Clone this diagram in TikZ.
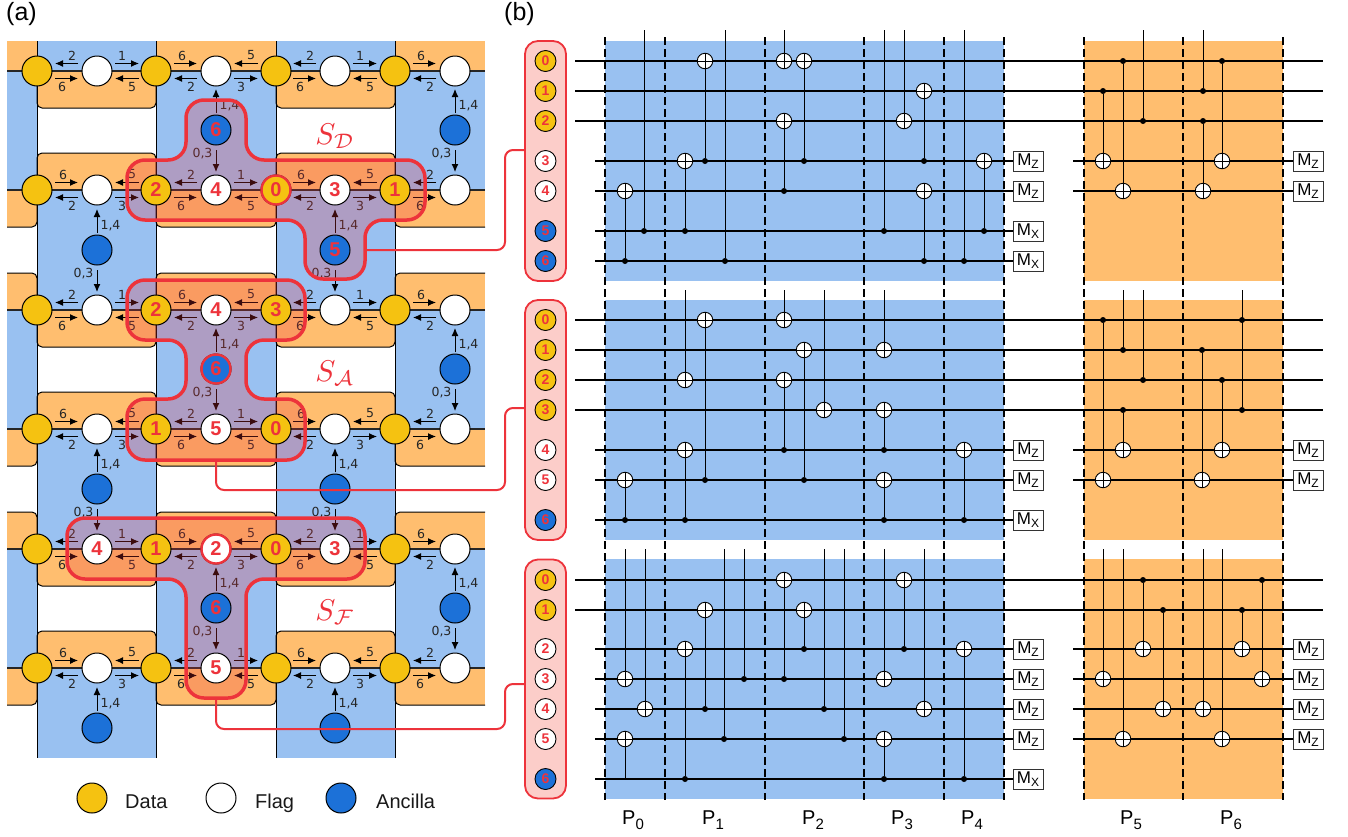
\documentclass[tikz,border=0pt]{standalone}
\usepackage{fontspec}
\setmainfont{Liberation Sans}
\newfontfamily\djv{DejaVu Sans}
\usetikzlibrary{arrows.meta}
\definecolor{cblue}{HTML}{99C1F1}
\definecolor{corange}{HTML}{FFBE6F}
\definecolor{cyel}{HTML}{F5C211}
\definecolor{canc}{HTML}{1C71D8}
\definecolor{cred}{HTML}{ED333B}
\definecolor{cpink}{HTML}{FCCDC9}
\tikzset{
 arr/.style={-{Latex[length=8pt,width=7pt]},line width=1pt,black},
 lb/.style={font=\djv\fontsize{12.5}{12.5}\selectfont,text=black!85,inner sep=0pt},
 blk/.style={fill=corange,draw=black,line width=1pt,rounded corners=5pt},
 qub/.style={circle,draw=black,line width=1pt,minimum size=30pt,inner sep=0pt},
 dat/.style={qub,fill=cyel},
 flg/.style={qub,fill=white},
 anc/.style={qub,fill=canc},
 ring/.style={circle,draw=cred,line width=2.4pt,minimum size=29pt,inner sep=0pt},
 bign/.style={text=cred,font=\bfseries\fontsize{20}{20}\selectfont,inner sep=0pt},
 smq/.style={circle,draw=black,line width=0.9pt,minimum size=21pt,inner sep=0pt,text=cred,font=\bfseries\fontsize{14}{14}\selectfont},
 region/.style={fill=cred,fill opacity=0.25,draw=cred,draw opacity=1,line width=3.5pt,rounded corners=18pt},
 conn/.style={draw=cred,line width=2pt,rounded corners=8pt},
 redbox/.style={rectangle,draw=cred,fill=cpink,line width=1.8pt,rounded corners=13pt,minimum width=41pt,inner sep=0pt},
 wire/.style={line width=1.7pt,black},
 gate/.style={line width=0.9pt,black},
 tgt/.style={circle,draw=black,fill=white,line width=0.9pt,minimum size=15.5pt,inner sep=0pt},
 ctl/.style={circle,fill=black,minimum size=6pt,inner sep=0pt},
 mbox/.style={rectangle,draw=black!80,fill=white,line width=0.9pt,minimum width=30pt,minimum height=20pt,inner sep=0pt,font=\fontsize{17}{17}\selectfont},
 dsh/.style={line width=2.7pt,black,dash pattern=on 7.5pt off 4.5pt},
 slab/.style={text=cred,scale=3,inner sep=0pt},
 plab/.style={font=\fontsize{20}{20}\selectfont,inner sep=0pt,anchor=base west},
 leg/.style={font=\fontsize{20}{20}\selectfont,inner sep=0pt,anchor=base west,text=black!90},
}
\newcommand{\sbs}[1]{\raisebox{-3.5pt}{\fontsize{12}{12}\selectfont #1}}
\newcommand{\psb}[1]{\raisebox{-5pt}{\fontsize{15}{15}\selectfont #1}}
% arrows around a flag
\newcommand{\hh}[7]{% x1,x2,y, labelx, labely, text, tag
 \coordinate (ha#7) at (#1,#3); \coordinate (hb#7) at (#2,#3);
 \draw[arr] (ha#7) -- (hb#7);
 \node[lb] (hl#7) at (#4,#5) {#6};}
\newcommand{\ALeft}[2]{%
 \hh{#1-19}{#1-42}{#2-7.5}{#1-25}{#2-15.5}{2}{#1-#2-a}
 \hh{#1-42}{#1-19}{#2+7.5}{#1-35}{#2+16}{6}{#1-#2-b}}
\newcommand{\ARight}[2]{%
 \hh{#1+18}{#1+42}{#2-7.5}{#1+25}{#2-15.5}{1}{#1-#2-c}
 \hh{#1+42}{#1+18}{#2+7.5}{#1+35}{#2+16}{5}{#1-#2-d}}
\newcommand{\BLeft}[2]{%
 \hh{#1-42}{#1-19}{#2-7.5}{#1-34}{#2-15.5}{6}{#1-#2-a}
 \hh{#1-19}{#1-42}{#2+7.5}{#1-25}{#2+16}{2}{#1-#2-b}}
\newcommand{\BRight}[2]{%
 \hh{#1+42}{#1+18}{#2-7.5}{#1+35}{#2-15.5}{5}{#1-#2-c}
 \hh{#1+18}{#1+42}{#2+7.5}{#1+25}{#2+16}{3}{#1-#2-d}}
% gates
\newcommand{\tnode}[2]{\node[tgt] (t#1-#2) at (#1,#2) {};
 \draw[line width=0.8pt] (t#1-#2.north) -- (t#1-#2.south) (t#1-#2.west) -- (t#1-#2.east);}
\newcommand{\gcx}[3]{\node[ctl] (c#1-#2) at (#1,#2) {}; \tnode{#1}{#3} \draw[gate] (c#1-#2) -- (t#1-#3);}
\newcommand{\gtt}[3]{\coordinate (u#1-#2) at (#1,#2); \tnode{#1}{#3} \draw[gate] (u#1-#2) -- (t#1-#3);}
\newcommand{\gct}[3]{\coordinate (u#1-#2) at (#1,#2); \node[ctl] (c#1-#3) at (#1,#3) {}; \draw[gate] (u#1-#2) -- (c#1-#3);}
\newcommand{\gnt}[3]{\coordinate (e#1-#2) at (#1,#2); \tnode{#1}{#3} \draw[gate] (e#1-#2) -- (t#1-#3);}
\newcommand{\wirefull}[1]{\coordinate (wa#1) at (575,#1); \coordinate (wb#1) at (1323,#1); \draw[wire] (wa#1) -- (wb#1);}
\newcommand{\wireone}[2]{\node[mbox] (ma#1) at (1028,#1) {M\sbs{#2}}; \coordinate (wa#1) at (595,#1); \draw[wire] (wa#1) -- (ma#1);}
\newcommand{\wiretwo}[2]{\node[mbox] (mb#1) at (1308,#1) {M\sbs{#2}}; \coordinate (wc#1) at (1073,#1); \draw[wire] (wc#1) -- (mb#1);}
\newcommand{\numq}[3]{\node[bign] (n#1-#2) at (#1,#2) {#3};}
\begin{document}
\begin{tikzpicture}[x=1pt,y=-1pt]
\useasboundingbox (0,0) rectangle (1348,836);
%% ---------- panel (a) background
\foreach \xa/\xb/\ya/\yb in {
 37/156/41/71, 276/395/41/71,
 7/37/71/190, 156/276/71/190, 395/485/71/190,
 37/156/190/310, 276/395/190/310,
 7/37/310/429, 156/276/310/429, 395/485/310/429,
 37/156/429/549, 276/395/429/549,
 7/37/549/668, 156/276/549/668, 395/485/549/668,
 37/156/668/758, 276/395/668/758}
 {\fill[cblue] (\xa,\ya) rectangle (\xb,\yb);}
\foreach \xa/\xb in {7/37,156/276,395/485}
 {\fill[corange] (\xa,41) rectangle (\xb,71);}
% orange blocks below a row, columns 37-156 and 276-395
\foreach \y in {71,310,549} {\foreach \xa/\xb in {37/156,276/395}
 {\draw[blk] (\xa,\y) -- (\xa,\y+37) -- (\xb,\y+37) -- (\xb,\y);}}
% orange blocks above a row
\foreach \y in {190,429,668} {\foreach \xa/\xb in {37/156,276/395}
 {\draw[blk] (\xa,\y) -- (\xa,\y-37) -- (\xb,\y-37) -- (\xb,\y);}}
\foreach \y in {190,429,668} {
 \draw[blk] (156,\y) -- (156,\y+37) -- (276,\y+37) -- (276,\y);
 \fill[corange,rounded corners=5pt] (6,\y) -- (6,\y+37) -- (37,\y+37) -- (37,\y) -- cycle;
 \fill[corange] (7,\y) rectangle (20,\y+37);
 \fill[white] (0,\y) rectangle (7,\y+38);
 \draw[line width=1pt,rounded corners=5pt] (7,\y+37) -- (37,\y+37) -- (37,\y);
 \fill[corange,rounded corners=5pt] (395,\y) -- (395,\y+37) -- (490,\y+37) -- (490,\y) -- cycle;
 \fill[white] (485,\y) rectangle (492,\y+38);
 \draw[line width=1pt,rounded corners=5pt] (485,\y+37) -- (395,\y+37) -- (395,\y);
}
\foreach \y in {310,549} {
 \draw[blk] (156,\y) -- (156,\y-37) -- (276,\y-37) -- (276,\y);
 \fill[corange,rounded corners=5pt] (6,\y) -- (6,\y-37) -- (37,\y-37) -- (37,\y) -- cycle;
 \fill[corange] (7,\y-37) rectangle (20,\y);
 \fill[white] (0,\y-38) rectangle (7,\y);
 \draw[line width=1pt,rounded corners=5pt] (7,\y-37) -- (37,\y-37) -- (37,\y);
 \fill[corange,rounded corners=5pt] (395,\y) -- (395,\y-37) -- (490,\y-37) -- (490,\y) -- cycle;
 \fill[white] (485,\y-38) rectangle (492,\y);
 \draw[line width=1pt,rounded corners=5pt] (485,\y-37) -- (395,\y-37) -- (395,\y);
}
% column lines and row lines
\foreach \x in {37,156,276,395} {
 \coordinate (ct\x) at (\x,41); \coordinate (cb\x) at (\x,758);
 \draw[line width=1pt] (ct\x) -- (cb\x);}
\foreach \y in {71,190,310,429,549,668} {
 \coordinate (rl\y) at (7,\y); \coordinate (rr\y) at (485,\y);
 \draw[line width=1.2pt,black!85] (rl\y) -- (rr\y);}
% horizontal arrows
\foreach \y in {71,310,549} {
 \foreach \f in {97,335} {\ALeft{\f}{\y} \ARight{\f}{\y}}
 \BLeft{216}{\y} \BRight{216}{\y} \BLeft{455}{\y}}
\foreach \y in {190,429,668} {
 \foreach \f in {97,335} {\BLeft{\f}{\y} \BRight{\f}{\y}}
 \ALeft{216}{\y} \ARight{216}{\y} \ALeft{455}{\y}}
% vertical arrows
\foreach \x/\y in {216/130,455/130,97/250,335/250,216/369,455/369,97/489,335/489,216/608,455/608,97/728,335/728} {
 \coordinate (ua\x-\y) at (\x,\y-17); \coordinate (ub\x-\y) at (\x,\y-41);
 \draw[arr] (ua\x-\y) -- (ub\x-\y);
 \node[lb] (ul\x-\y) at (\x+13.5,\y-24) {1,4};}
\foreach \x/\y in {216/130,455/130,97/250,335/250,216/369,455/369,97/489,335/489,216/608,455/608} {
 \coordinate (da\x-\y) at (\x,\y+20); \coordinate (db\x-\y) at (\x,\y+42);
 \draw[arr] (da\x-\y) -- (db\x-\y);
 \node[lb] (dl\x-\y) at (\x-13.5,\y+24) {0,3};}
% red regions
\draw[region] (186,100) -- (246,100) -- (246,160) -- (425,160) -- (425,220) -- (365,220) -- (365,279) -- (305,279) -- (305,220) -- (127,220) -- (127,160) -- (186,160) -- cycle;
\draw[region] (127,280) -- (305,280) -- (305,340) -- (246,340) -- (246,399) -- (305,399) -- (305,460) -- (127,460) -- (127,399) -- (186,399) -- (186,340) -- (127,340) -- cycle;
\draw[region] (67,518) -- (365,518) -- (365,579) -- (246,579) -- (246,698) -- (186,698) -- (186,579) -- (67,579) -- cycle;
% qubits
\foreach \y in {71,190,310,429,549,668} {
 \foreach \x in {37,156,276,395} {\node[dat] (d\x-\y) at (\x,\y) {};}
 \foreach \x in {97,216,335,455} {\node[flg] (f\x-\y) at (\x,\y) {};}}
\foreach \x/\y in {216/130,455/130,97/250,335/250,216/369,455/369,97/489,335/489,216/608,455/608,97/728,335/728}
 {\node[anc] (a\x-\y) at (\x,\y) {};}
\node[ring] (r1) at (276,190) {};
\node[ring] (r2) at (216,369) {};
\node[ring] (r3) at (216,549) {};
\foreach \x/\y/\dg in {156/190/2,216/190/4,276/190/0,335/190/3,395/190/1,216/130/6,335/250/5,
 156/310/2,216/310/4,276/310/3,216/369/6,156/429/1,216/429/5,276/429/0,
 97/549/4,156/549/1,216/549/2,276/549/0,335/549/3,216/608/6,216/668/5}
 {\numq{\x}{\y}{\dg}}
% S labels
\node[slab] (s1) at (335,136) {$S_{\mathcal{D}}$};
\node[slab] (s2) at (335,373) {$S_{\mathcal{A}}$};
\node[slab] (s3) at (335,612) {$S_{\mathcal{F}}$};
%% legend
\node[dat] (l1) at (92,798) {};
\node[flg] (l2) at (221,798) {};
\node[anc] (l3) at (341,798) {};
\node[leg] (l1t) at (125,808) {Data};
\node[leg] (l2t) at (255,808) {Flag};
\node[leg] (l3t) at (376,808) {Ancilla};
\node[font=\fontsize{25}{25}\selectfont,inner sep=0pt,anchor=base west] (ta) at (6,20) {(a)};
\node[font=\fontsize{25}{25}\selectfont,inner sep=0pt,anchor=base west] (tb) at (504,20) {(b)};
%% ---------- red boxes
\node[redbox,minimum height=240pt] (bx1) at (545.5,161) {};
\node[redbox,minimum height=240pt] (bx2) at (545.5,420) {};
\node[redbox,minimum height=239pt] (bx3) at (545.5,679) {};
\foreach \y/\dg in {61/0,91/1,121/2,320/0,350/1,380/2,410/3,580/0,610/1}
 {\node[smq,fill=cyel] (q\y) at (545.5,\y) {\dg};}
\foreach \y/\dg in {161/3,191/4,450/4,480/5,649/2,679/3,709/4,739/5}
 {\node[smq,fill=white] (q\y) at (545.5,\y) {\dg};}
\foreach \y/\dg in {231/5,261/6,520/6,779/6}
 {\node[smq,fill=canc] (q\y) at (545.5,\y) {\dg};}
% connectors
\coordinate (c1a) at (365,250); \coordinate (c1b) at (505,250); \coordinate (c1c) at (505,150);
\draw[conn] (c1a) -- (c1b) -- (c1c) -- (bx1.west |- c1c);
\coordinate (c2a) at (216,460); \coordinate (c2b) at (216,490); \coordinate (c2c) at (505,490); \coordinate (c2d) at (505,408);
\draw[conn] (c2a) -- (c2b) -- (c2c) -- (c2d) -- (bx2.west |- c2d);
\coordinate (c3a) at (216,698); \coordinate (c3b) at (216,729); \coordinate (c3c) at (505,729); \coordinate (c3d) at (505,684);
\draw[conn] (c3a) -- (c3b) -- (c3c) -- (c3d) -- (bx3.west |- c3d);
%% ---------- panel (b)
\foreach \ya/\yb in {41/281,300/540,559/799} {
 \fill[cblue] (605,\ya) rectangle (1004,\yb);
 \fill[corange] (1084,\ya) rectangle (1283,\yb);}
% wires
\foreach \y in {61,91,121,320,350,380,410,580,610} {\wirefull{\y}}
\foreach \y/\dg in {161/Z,191/Z,231/X,261/X,450/Z,480/Z,520/X,649/Z,679/Z,709/Z,739/Z,779/X} {\wireone{\y}{\dg}}
\foreach \y in {161,191,450,480,649,679,709,739} {\wiretwo{\y}{Z}}
% dashes
\foreach \x in {605,665,765,864,944,1004,1084,1183,1283} {
 \coordinate (vt\x) at (\x,37); \coordinate (vb\x) at (\x,800);
 \draw[dsh] (vt\x) -- (vb\x);}
% circuit 1
\gcx{625}{261}{191}
\gct{644}{30}{231}
\gcx{685}{231}{161}
\gcx{705}{161}{61}
\gct{725}{30}{261}
\gtt{784}{30}{61}
\gcx{784}{191}{121}
\gcx{804}{161}{61}
\gct{884}{30}{231}
\gtt{904}{30}{121}
\gcx{924}{161}{91}
\gcx{924}{261}{191}
\gct{964}{30}{261}
\gcx{984}{231}{161}
\gcx{1103}{91}{161}
\gcx{1123}{61}{191}
\gct{1143}{30}{121}
\gct{1203}{30}{91}
\gcx{1203}{121}{191}
\gcx{1222}{61}{161}
% circuit 2
\gcx{625}{520}{480}
\gtt{685}{290}{380}
\gcx{685}{520}{450}
\gcx{705}{480}{320}
\gtt{784}{290}{320}
\gcx{784}{450}{380}
\gcx{804}{480}{350}
\gtt{824}{290}{410}
\gtt{884}{290}{350}
\gcx{884}{450}{410}
\gcx{884}{520}{480}
\gcx{964}{520}{450}
\gcx{1103}{320}{480}
\gct{1123}{290}{350}
\gcx{1123}{410}{450}
\gct{1143}{290}{380}
\gcx{1202}{350}{480}
\gcx{1222}{380}{450}
\gct{1242}{290}{320}
\gct{1242}{290}{410}
% circuit 3
\gtt{625}{549}{679}
\gnt{625}{779}{739}
\gtt{645}{549}{709}
\gcx{685}{779}{649}
\gcx{705}{709}{610}
\gct{724}{549}{739}
\gct{744}{549}{679}
\gcx{784}{679}{580}
\gcx{804}{649}{610}
\gct{824}{549}{709}
\gct{844}{549}{739}
\gtt{884}{549}{679}
\gcx{884}{779}{739}
\gcx{904}{649}{580}
\gtt{924}{549}{709}
\gcx{964}{779}{649}
\gtt{1103}{549}{679}
\gtt{1123}{549}{739}
\gcx{1143}{580}{649}
\gcx{1163}{610}{709}
\gtt{1203}{549}{709}
\gtt{1222}{549}{739}
\gcx{1242}{610}{649}
\gcx{1262}{580}{679}
% layer labels
\foreach \x/\pn in {622/0,702/1,802/2,891/3,961/4,1120/5,1220/6}
 {\node[plab] (p\pn) at (\x,824) {P\psb{\pn}};}
\end{tikzpicture}
\end{document}
